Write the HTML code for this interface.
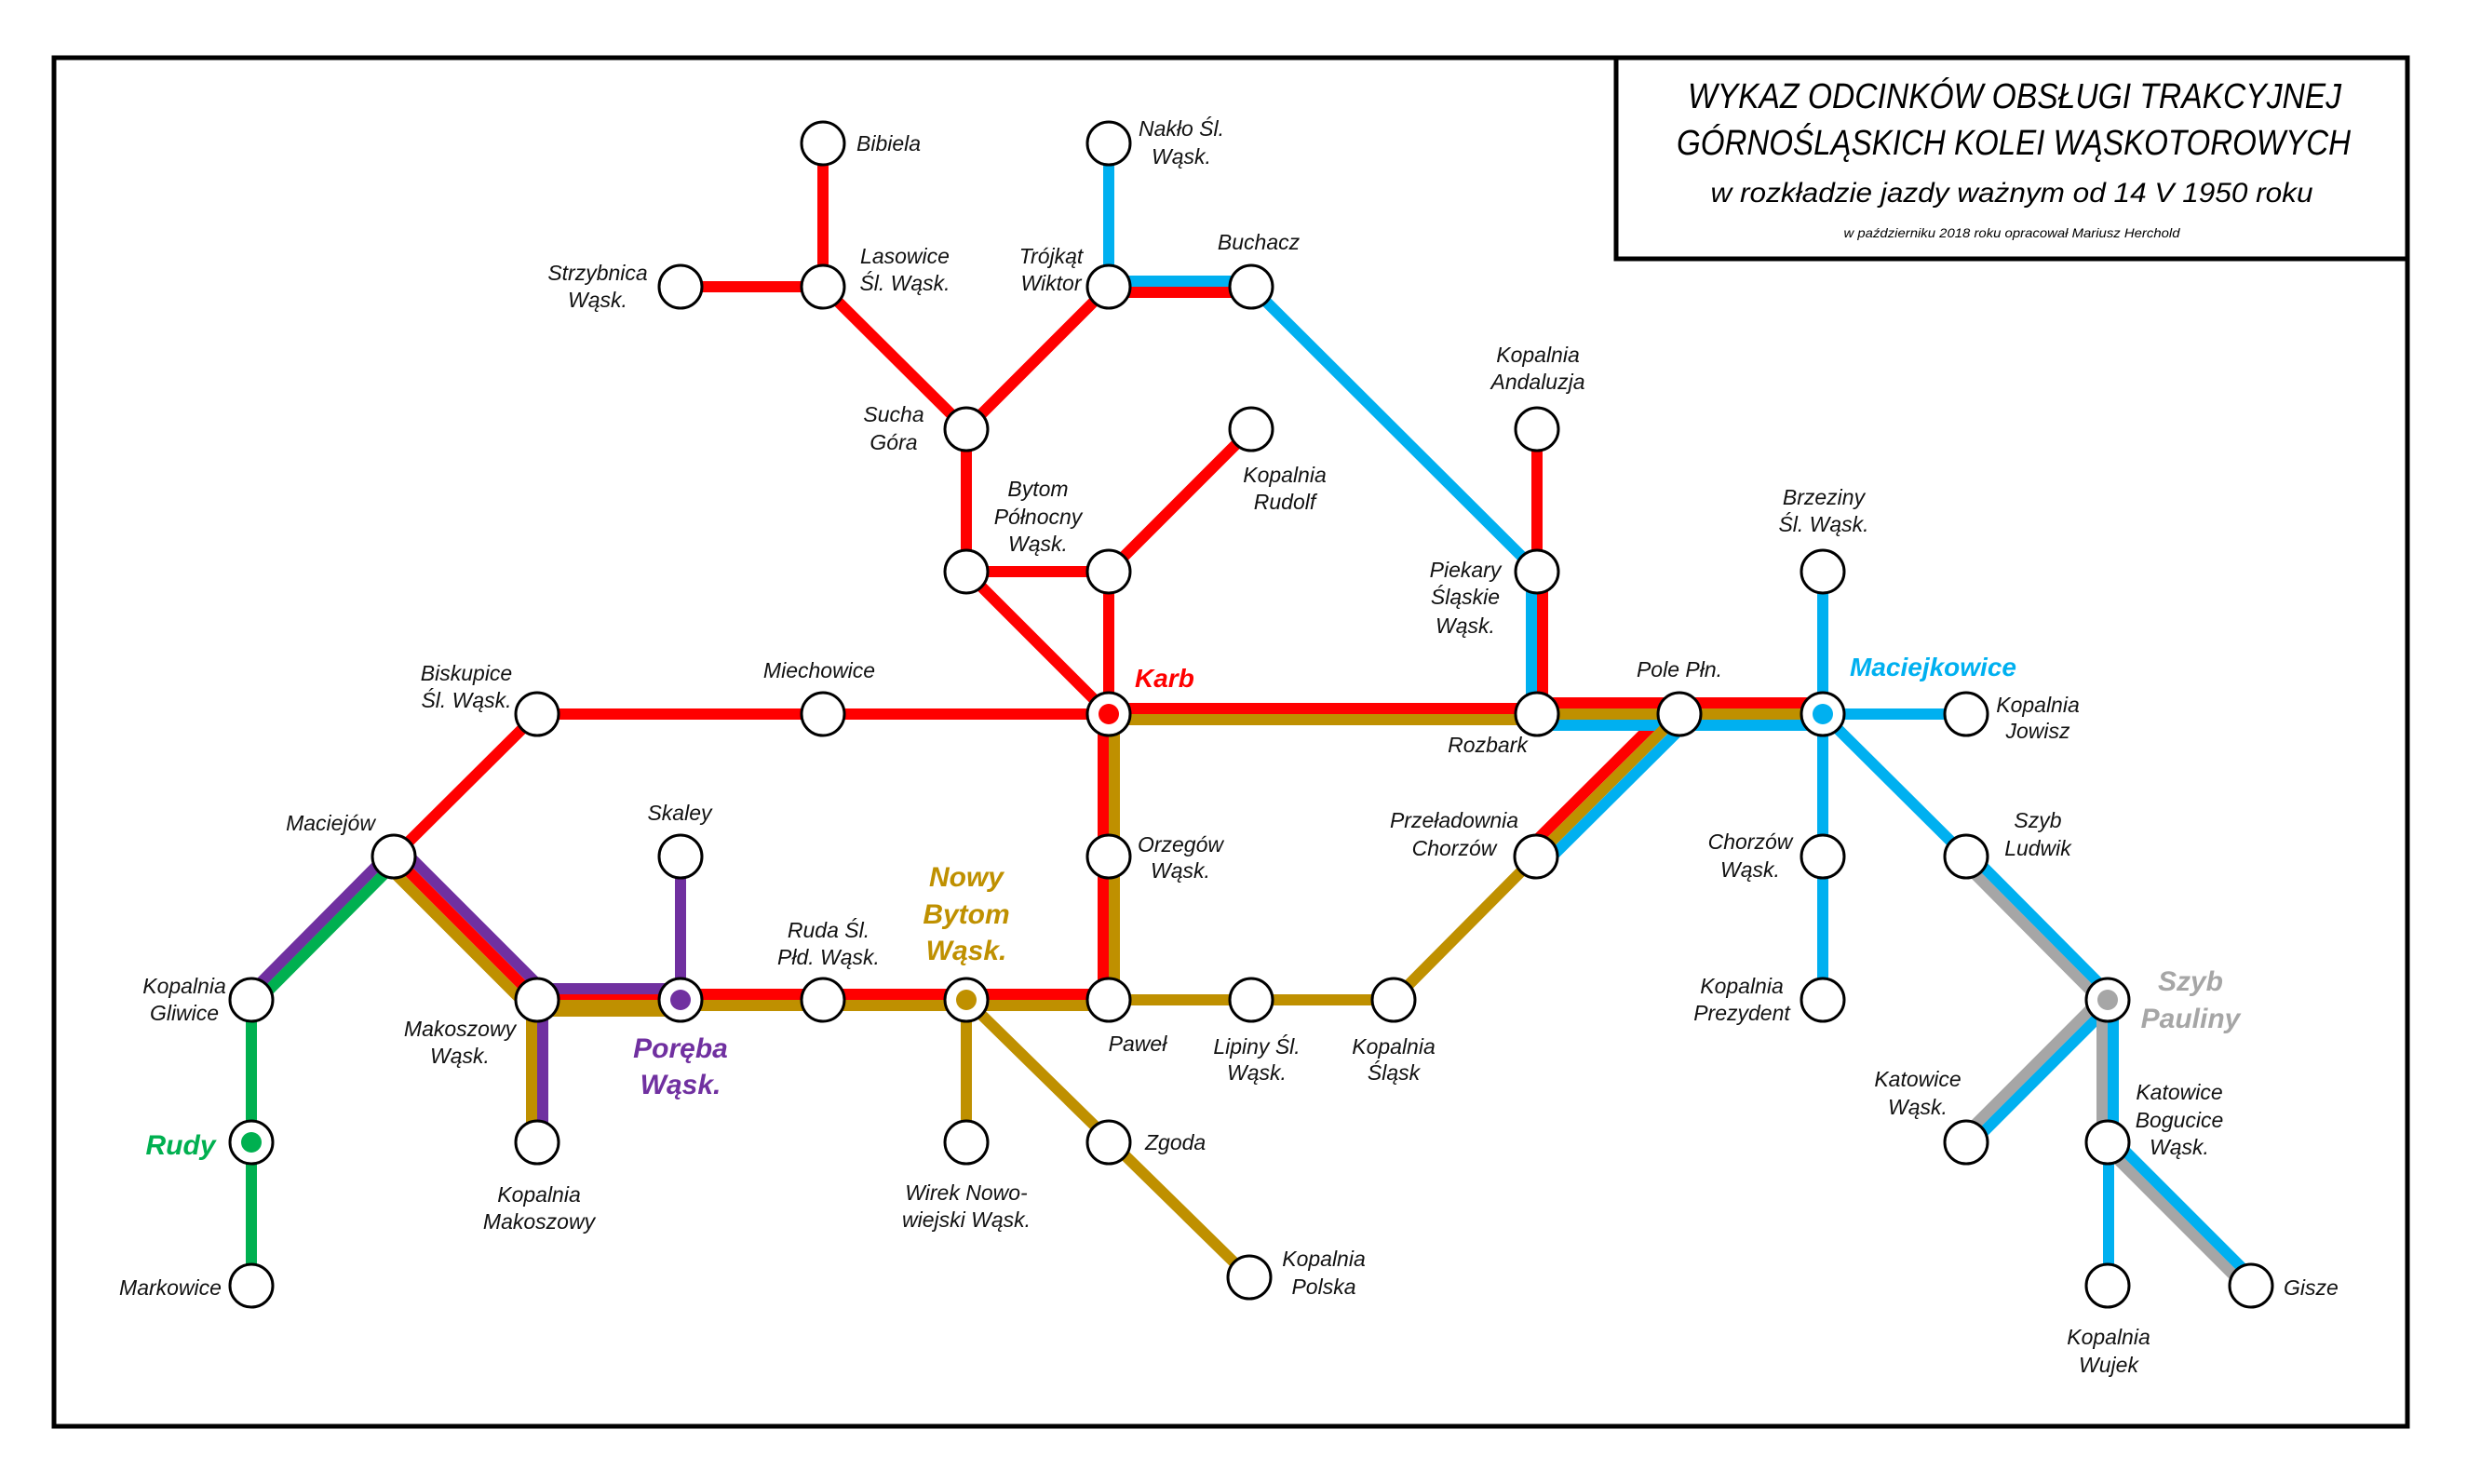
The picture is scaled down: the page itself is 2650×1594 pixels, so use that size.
<!DOCTYPE html>
<html><head><meta charset="utf-8"><style>
html,body{margin:0;padding:0;background:#fff;}
svg{display:block;}
text{font-family:"Liberation Sans Narrow","Liberation Sans",sans-serif;font-style:italic;}
.l{font-size:23px;fill:#111;text-anchor:middle;}
.s{text-anchor:start;}
.b{font-size:30px;font-weight:bold;text-anchor:middle;}
</style></head><body>
<svg width="2650" height="1594" viewBox="0 0 2650 1594" xmlns="http://www.w3.org/2000/svg">
<rect x="0" y="0" width="2650" height="1594" fill="#fff"/>
<rect x="58" y="62" width="2528" height="1470" fill="none" stroke="#000" stroke-width="5"/>
<rect x="1736" y="62" width="850" height="216" fill="none" stroke="#000" stroke-width="5"/>
<text x="2164" y="116" style="font-size:38px;text-anchor:middle" textLength="702" lengthAdjust="spacingAndGlyphs">WYKAZ ODCINKÓW OBSŁUGI TRAKCYJNEJ</text>
<text x="2163" y="166" style="font-size:38px;text-anchor:middle" textLength="724" lengthAdjust="spacingAndGlyphs">GÓRNOŚLĄSKICH KOLEI WĄSKOTOROWYCH</text>
<text x="2161" y="217" style="font-size:30px;text-anchor:middle" textLength="647" lengthAdjust="spacingAndGlyphs">w rozkładzie jazdy ważnym od 14 V 1950 roku</text>
<text x="2161" y="255" style="font-size:14px;text-anchor:middle" textLength="361" lengthAdjust="spacingAndGlyphs">w październiku 2018 roku opracował Mariusz Herchold</text>

<g fill="none" stroke-width="12" stroke-linecap="butt">
<!-- red singles -->
<g stroke="#ff0000">
<line x1="884" y1="154" x2="884" y2="308"/>
<line x1="731" y1="308" x2="884" y2="308"/>
<line x1="884" y1="308" x2="1038" y2="461"/>
<line x1="1191" y1="308" x2="1038" y2="461"/>
<line x1="1038" y1="461" x2="1038" y2="614"/>
<line x1="1038" y1="614" x2="1191" y2="614"/>
<line x1="1038" y1="614" x2="1191" y2="767"/>
<line x1="1191" y1="614" x2="1191" y2="767"/>
<line x1="1191" y1="614" x2="1344" y2="461"/>
<line x1="577" y1="767" x2="1191" y2="767"/>
<line x1="577" y1="767" x2="423" y2="920"/>
<line x1="1651" y1="461" x2="1651" y2="614"/>
<line x1="1191" y1="314" x2="1344" y2="314"/>
<line x1="1657" y1="614" x2="1657" y2="767"/>
<line x1="1191" y1="761" x2="1651" y2="761"/>
<line x1="1651" y1="755" x2="1958" y2="755"/>
<line x1="1795.5" y1="758.5" x2="1641.5" y2="911.5"/>
<line x1="1185" y1="767" x2="1185" y2="1074"/>
<line x1="731" y1="1068" x2="1191" y2="1068"/>
<line x1="577" y1="1074" x2="731" y2="1074"/>
<line x1="423" y1="920" x2="577" y2="1074"/>
</g>
<!-- blue -->
<g stroke="#00b0f0">
<line x1="1191" y1="154" x2="1191" y2="308"/>
<line x1="1191" y1="302" x2="1344" y2="302"/>
<line x1="1344" y1="308" x2="1651" y2="614"/>
<line x1="1645" y1="614" x2="1645" y2="767"/>
<line x1="1651" y1="779" x2="1958" y2="779"/>
<line x1="1812.5" y1="775.5" x2="1658.5" y2="928.5"/>
<line x1="1958" y1="614" x2="1958" y2="1074"/>
<line x1="1958" y1="767" x2="2112" y2="767"/>
<line x1="1958" y1="767" x2="2112" y2="920"/>
<line x1="2115.2" y1="915.8" x2="2268.2" y2="1069.8"/>
<line x1="2268.2" y1="1078.2" x2="2115.2" y2="1231.2"/>
<line x1="2270" y1="1074" x2="2270" y2="1227"/>
<line x1="2265" y1="1227" x2="2265" y2="1381"/>
<line x1="2269.2" y1="1222.8" x2="2423.2" y2="1376.8"/>
</g>
<!-- gray -->
<g stroke="#a6a6a6">
<line x1="2106.8" y1="924.2" x2="2259.8" y2="1078.2"/>
<line x1="2259.8" y1="1069.8" x2="2106.8" y2="1222.8"/>
<line x1="2258" y1="1074" x2="2258" y2="1227"/>
<line x1="2260.8" y1="1231.2" x2="2414.8" y2="1385.2"/>
</g>
<!-- gold -->
<g stroke="#bf9000">
<line x1="1191" y1="773" x2="1651" y2="773"/>
<line x1="1651" y1="767" x2="1958" y2="767"/>
<line x1="1804" y1="767" x2="1650" y2="920"/>
<line x1="1650" y1="920" x2="1497" y2="1074"/>
<line x1="1191" y1="1074" x2="1497" y2="1074"/>
<line x1="1197" y1="767" x2="1197" y2="1074"/>
<line x1="577" y1="1080" x2="1191" y2="1080"/>
<line x1="577" y1="1086" x2="731" y2="1086"/>
<line x1="414.5" y1="928.5" x2="568.5" y2="1082.5"/>
<line x1="571" y1="1074" x2="571" y2="1227"/>
<line x1="1038" y1="1074" x2="1038" y2="1227"/>
<line x1="1038" y1="1074" x2="1342" y2="1372"/>
</g>
<!-- purple -->
<g stroke="#7030a0">
<line x1="431.5" y1="911.5" x2="585.5" y2="1065.5"/>
<line x1="577" y1="1062" x2="731" y2="1062"/>
<line x1="583" y1="1074" x2="583" y2="1227"/>
<line x1="731" y1="920" x2="731" y2="1074"/>
<line x1="418.8" y1="915.8" x2="265.8" y2="1069.8"/>
</g>
<!-- green -->
<g stroke="#00b050">
<line x1="427.2" y1="924.2" x2="274.2" y2="1078.2"/>
<line x1="270" y1="1074" x2="270" y2="1381"/>
</g>
</g>

<g fill="#fff" stroke="#000" stroke-width="3">
<circle cx="884" cy="154" r="23"/><circle cx="1191" cy="154" r="23"/>
<circle cx="731" cy="308" r="23"/><circle cx="884" cy="308" r="23"/><circle cx="1191" cy="308" r="23"/><circle cx="1344" cy="308" r="23"/>
<circle cx="1038" cy="461" r="23"/><circle cx="1344" cy="461" r="23"/><circle cx="1651" cy="461" r="23"/>
<circle cx="1038" cy="614" r="23"/><circle cx="1191" cy="614" r="23"/><circle cx="1651" cy="614" r="23"/><circle cx="1958" cy="614" r="23"/>
<circle cx="577" cy="767" r="23"/><circle cx="884" cy="767" r="23"/><circle cx="1191" cy="767" r="23"/><circle cx="1651" cy="767" r="23"/><circle cx="1804" cy="767" r="23"/><circle cx="1958" cy="767" r="23"/><circle cx="2112" cy="767" r="23"/>
<circle cx="423" cy="920" r="23"/><circle cx="731" cy="920" r="23"/><circle cx="1191" cy="920" r="23"/><circle cx="1650" cy="920" r="23"/><circle cx="1958" cy="920" r="23"/><circle cx="2112" cy="920" r="23"/>
<circle cx="270" cy="1074" r="23"/><circle cx="577" cy="1074" r="23"/><circle cx="731" cy="1074" r="23"/><circle cx="884" cy="1074" r="23"/><circle cx="1038" cy="1074" r="23"/><circle cx="1191" cy="1074" r="23"/><circle cx="1344" cy="1074" r="23"/><circle cx="1497" cy="1074" r="23"/><circle cx="1958" cy="1074" r="23"/><circle cx="2264" cy="1074" r="23"/>
<circle cx="270" cy="1227" r="23"/><circle cx="577" cy="1227" r="23"/><circle cx="1038" cy="1227" r="23"/><circle cx="1191" cy="1227" r="23"/><circle cx="2112" cy="1227" r="23"/><circle cx="2264" cy="1227" r="23"/>
<circle cx="270" cy="1381" r="23"/><circle cx="1342" cy="1372" r="23"/><circle cx="2264" cy="1381" r="23"/><circle cx="2418" cy="1381" r="23"/>
</g>
<circle cx="1191" cy="767" r="11" fill="#ff0000"/>
<circle cx="731" cy="1074" r="11" fill="#7030a0"/>
<circle cx="1038" cy="1074" r="11" fill="#bf9000"/>
<circle cx="270" cy="1227" r="11" fill="#00b050"/>
<circle cx="1958" cy="767" r="11" fill="#00b0f0"/>
<circle cx="2264" cy="1074" r="11" fill="#a6a6a6"/>

<g class="l">
<text x="920" y="162" class="l s">Bibiela</text>
<text x="1269" y="146">Nakło Śl.</text><text x="1269" y="176">Wąsk.</text>
<text x="642" y="301">Strzybnica</text><text x="642" y="330">Wąsk.</text>
<text x="972" y="283">Lasowice</text><text x="972" y="312">Śl. Wąsk.</text>
<text x="1129" y="283">Trójkąt</text><text x="1129" y="312">Wiktor</text>
<text x="1352" y="268">Buchacz</text>
<text x="960" y="453">Sucha</text><text x="960" y="483">Góra</text>
<text x="1115" y="533">Bytom</text><text x="1115" y="563">Północny</text><text x="1115" y="592">Wąsk.</text>
<text x="1380" y="518">Kopalnia</text><text x="1380" y="547">Rudolf</text>
<text x="880" y="728">Miechowice</text>
<text x="501" y="731">Biskupice</text><text x="501" y="760">Śl. Wąsk.</text>
<text x="1652" y="389">Kopalnia</text><text x="1652" y="418">Andaluzja</text>
<text x="1574" y="620">Piekary</text><text x="1574" y="649">Śląskie</text><text x="1574" y="680">Wąsk.</text>
<text x="1804" y="727">Pole Płn.</text>
<text x="1959" y="542">Brzeziny</text><text x="1959" y="571">Śl. Wąsk.</text>
<text x="2189" y="765">Kopalnia</text><text x="2189" y="793">Jowisz</text>
<text x="1598" y="808">Rozbark</text>
<text x="355" y="892">Maciejów</text>
<text x="730" y="881">Skaley</text>
<text x="198" y="1067">Kopalnia</text><text x="198" y="1096">Gliwice</text>
<text x="494" y="1113">Makoszowy</text><text x="494" y="1142">Wąsk.</text>
<text x="890" y="1007">Ruda Śl.</text><text x="890" y="1036">Płd. Wąsk.</text>
<text x="1268" y="915">Orzegów</text><text x="1268" y="943">Wąsk.</text>
<text x="1222" y="1129">Paweł</text>
<text x="579" y="1291">Kopalnia</text><text x="579" y="1320">Makoszowy</text>
<text x="1038" y="1289">Wirek Nowo-</text><text x="1038" y="1318">wiejski Wąsk.</text>
<text x="1230" y="1235" class="l s">Zgoda</text>
<text x="183" y="1391">Markowice</text>
<text x="1350" y="1132">Lipiny Śl.</text><text x="1350" y="1160">Wąsk.</text>
<text x="1497" y="1132">Kopalnia</text><text x="1497" y="1160">Śląsk</text>
<text x="1562" y="889">Przeładownia</text><text x="1562" y="919">Chorzów</text>
<text x="1880" y="912">Chorzów</text><text x="1880" y="942">Wąsk.</text>
<text x="2189" y="889">Szyb</text><text x="2189" y="919">Ludwik</text>
<text x="1871" y="1067">Kopalnia</text><text x="1871" y="1096">Prezydent</text>
<text x="2060" y="1167">Katowice</text><text x="2060" y="1197">Wąsk.</text>
<text x="2341" y="1181">Katowice</text><text x="2341" y="1211">Bogucice</text><text x="2341" y="1240">Wąsk.</text>
<text x="1422" y="1360">Kopalnia</text><text x="1422" y="1390">Polska</text>
<text x="2265" y="1444">Kopalnia</text><text x="2265" y="1474">Wujek</text>
<text x="2453" y="1391" class="l s">Gisze</text>
</g>
<text x="1219" y="738" class="b" style="text-anchor:start;fill:#ff0000;font-size:28px">Karb</text>
<text x="1987" y="726" class="b" style="text-anchor:start;fill:#00b0f0;font-size:28px">Maciejkowice</text>
<text x="1038" y="952" class="b" style="fill:#bf9000">Nowy</text>
<text x="1038" y="992" class="b" style="fill:#bf9000">Bytom</text>
<text x="1038" y="1031" class="b" style="fill:#bf9000">Wąsk.</text>
<text x="731" y="1136" class="b" style="fill:#7030a0">Poręba</text>
<text x="731" y="1175" class="b" style="fill:#7030a0">Wąsk.</text>
<text x="194" y="1240" class="b" style="fill:#00b050">Rudy</text>
<text x="2353" y="1064" class="b" style="fill:#a6a6a6">Szyb</text>
<text x="2353" y="1104" class="b" style="fill:#a6a6a6">Pauliny</text>
</svg>
</body></html>
